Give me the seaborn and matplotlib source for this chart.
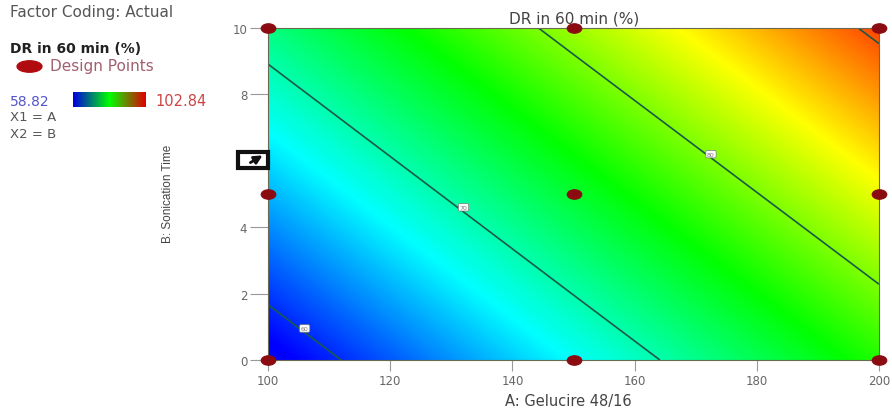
# contour plot of DR in 60 min (%) against the two factors
import numpy as np
import matplotlib
matplotlib.use('Agg')
import matplotlib.pyplot as plt
from matplotlib.colors import LinearSegmentedColormap
from matplotlib.path import Path
from matplotlib.patches import Rectangle
import seaborn as sns

# values
gelucire = [100, 150, 200]
sonication = [0, 5, 10]
dr_row_0 = [57.7, 67.3, 76.85]
dr_row_5 = [64.6, 74.2, 83.75]
dr_row_10 = [71.5, 81.1, 90.65]
contour_levels = [60, 70, 80, 90]
design_a = [100, 150, 200, 100, 150, 200, 100, 150, 200]
design_b = [0, 0, 0, 5, 5, 5, 10, 10, 10]
x_ticks = [100, 120, 140, 160, 180, 200]
y_ticks = [0, 2, 4, 6, 8, 10]

sns.set_theme(style='white')
plt.rcParams['font.family'] = ['DejaVu Sans']

W, H = 892, 414
fig = plt.figure(figsize=(W / 100, H / 100), dpi=100)
ax = fig.add_axes([268 / W, 1 - 361 / H, (879 - 268) / W, (361 - 29) / H])

# surface colours
surface_cmap = LinearSegmentedColormap.from_list('surface', [
    '#0000ff', '#00ffff', '#00ff00', '#ffff00', '#ff0000'])
z = np.array([dr_row_0, dr_row_5, dr_row_10])
ax.contourf(gelucire, sonication, z, levels=np.linspace(57.5, 91, 500),
            cmap=surface_cmap, vmin=58.6, vmax=93, antialiased=False)

lines = ax.contour(gelucire, sonication, z, levels=contour_levels,
                   colors='#1a5a48', linewidths=1.2)

# little label boxes on the contour lines
label_x = [106, 132, 172.5]
label_y = [0.95, 4.6, 6.2]
label_txt = ['60', '70', '80']
for lx, ly, lt in zip(label_x, label_y, label_txt):
    ax.text(lx, ly, lt, fontsize=4.5, color='#777777', ha='center', va='center',
            bbox=dict(boxstyle='round,pad=0.2', fc='white', ec='#777777', lw=0.5))

# design points, drawn as flattened dots like the original
oval = Path(Path.unit_circle().vertices * np.array([1.0, 0.65]), Path.unit_circle().codes)
sns.scatterplot(x=design_a, y=design_b, ax=ax, marker=oval, s=110, color='#8a0c10',
                edgecolor='#8a0c10', clip_on=False, zorder=5, legend=False)

ax.set_xlim(100, 200)
ax.set_ylim(0, 10)
ax.set_xticks(x_ticks)
ax.set_yticks(y_ticks)
ax.tick_params(axis='both', labelsize=8.5, labelcolor='#666666', color='#999999',
               length=8, width=0.8, pad=2, left=True, bottom=True)
ax.tick_params(axis='y', length=13)
for s in ax.spines.values():
    s.set_linewidth(0.8)
    s.set_color('#6a6a50')

fig.text(574 / W, 1 - 19 / H, 'DR in 60 min (%)', fontsize=11, color='#444444', ha='center', va='center')
fig.text(568 / W, 1 - 402 / H, 'A: Gelucire 48/16', fontsize=10.5, color='#444444', ha='center', va='center')
fig.text(168 / W, 1 - 194 / H, 'B: Sonication Time', fontsize=8.5, color='#444444', rotation=90,
         ha='center', va='center', family=['Liberation Sans Narrow', 'Liberation Sans'])

# left hand legend block
fig.text(10 / W, 1 - 12 / H, 'Factor Coding: Actual', fontsize=11, color='#555555', va='center')
fig.text(10 / W, 1 - 49 / H, 'DR in 60 min (%)', fontsize=10, color='#222222', weight='bold', va='center')
fig.text(50 / W, 1 - 67 / H, 'Design Points', fontsize=11, color='#a06070', va='center')
fig.text(10 / W, 1 - 102 / H, '58.82', fontsize=10, color='#5555cc', va='center')
fig.text(155 / W, 1 - 102 / H, '102.84', fontsize=10.5, color='#cc4444', va='center')
fig.text(10 / W, 1 - 118 / H, 'X1 = A', fontsize=9.5, color='#555555', va='center')
fig.text(10 / W, 1 - 135 / H, 'X2 = B', fontsize=9.5, color='#555555', va='center')

leg_ax = fig.add_axes([0, 0, 1, 1], facecolor='none')
leg_ax.set_xlim(0, W)
leg_ax.set_ylim(H, 0)
leg_ax.axis('off')
flat_oval = Path(Path.unit_circle().vertices * np.array([1.0, 0.46]), Path.unit_circle().codes)
leg_ax.scatter([29], [67], marker=flat_oval, s=320, color='#b00c10', clip_on=False)

# colour key
bar_ax = fig.add_axes([73 / W, 1 - 108 / H, 73 / W, 15 / H])
bar_cmap = LinearSegmentedColormap.from_list('bar', ['#0000e0', '#00ff00', '#e00000'])
bar_ax.imshow([np.linspace(0, 1, 73)], aspect='auto', cmap=bar_cmap)
bar_ax.axis('off')

# flag icon on the y axis
leg_ax.add_patch(Rectangle((238, 153), 30, 16, fc='white', ec='#111111', lw=3, zorder=6))
leg_ax.annotate('', xy=(265, 155), xytext=(248, 165), zorder=7,
                arrowprops=dict(arrowstyle='-|>', color='#111111', lw=2))

fig.savefig('out.png', dpi=100)
